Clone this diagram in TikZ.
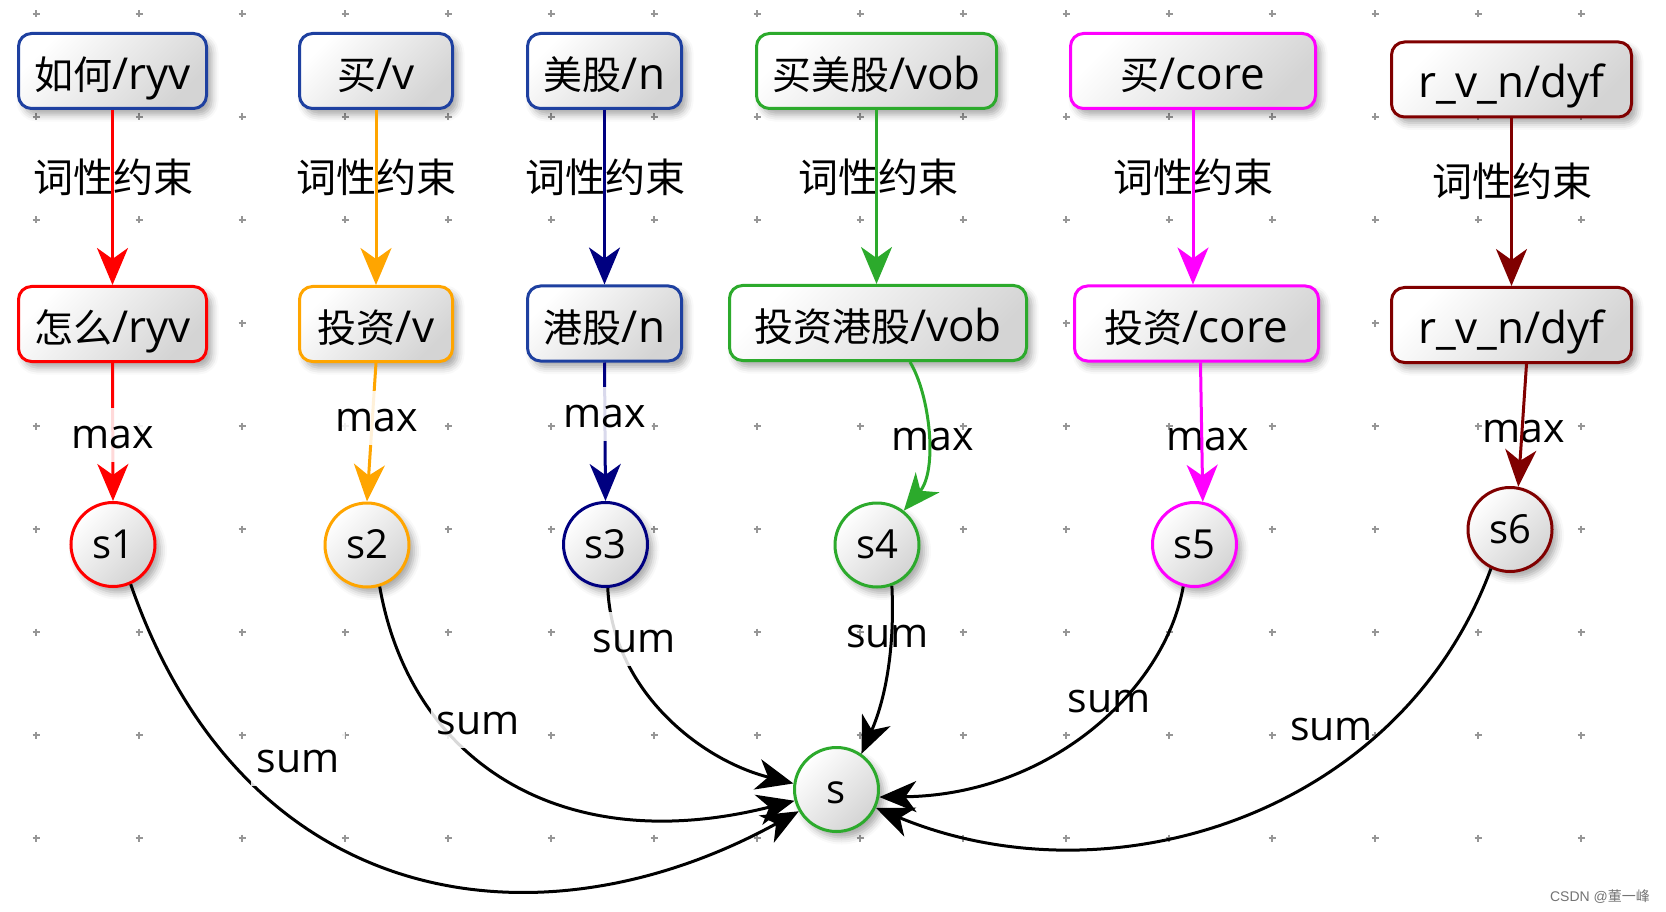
\documentclass[tikz,border=0pt]{standalone}
\usepackage{fontspec}
\setmainfont{Open Sans}
\newfontfamily\cjk{Noto Sans CJK SC}
\newfontfamily\wmfont{Liberation Sans}
\usetikzlibrary{arrows.meta,shadows.blur}

\definecolor{cblue}{RGB}{30,64,160}
\definecolor{cred}{RGB}{255,0,0}
\definecolor{corange}{RGB}{255,165,0}
\definecolor{cnavy}{RGB}{0,0,128}
\definecolor{cgreen}{RGB}{44,170,44}
\definecolor{cmag}{RGB}{255,0,255}
\definecolor{cmaroon}{RGB}{128,0,0}
\definecolor{dotgray}{RGB}{150,150,150}

\newcommand{\zh}[1]{{\cjk\fontsize{39}{44}\selectfont #1}}

\tikzset{
  wordbox/.style={draw=#1, line width=3pt, rounded corners=13pt, rectangle,
    top color=white, bottom color=black!17, shading angle=45,
    blur shadow={shadow xshift=5pt, shadow yshift=-6pt, shadow blur radius=7pt, shadow opacity=35},
    minimum height=75pt, text height=37pt, text depth=0pt, inner xsep=0pt, inner ysep=0pt,
    font=\fontsize{44}{50}\selectfont},
  snode/.style={draw=#1, line width=3pt, circle,
    top color=white, bottom color=black!17, shading angle=45,
    blur shadow={shadow xshift=5pt, shadow yshift=-6pt, shadow blur radius=7pt, shadow opacity=35},
    minimum size=84pt, text height=27pt, text depth=0pt, inner sep=0pt,
    font=\fontsize{40}{48}\selectfont},
  conlabel/.style={inner sep=0pt, font=\cjk\fontsize{40}{48}\selectfont},
  oplabel/.style={inner sep=0pt, anchor=base, font=\fontsize{41}{48}\selectfont},
  bglabel/.style={oplabel, fill=white, fill opacity=0.85, text opacity=1,
    inner xsep=6pt, inner ysep=10pt, text height=30pt, text depth=4pt},
  ce/.style={line width=3pt, draw=#1, -{Stealth[length=37pt,width=31pt,inset=11pt]}},
  sumedge/.style={ce=black},
  gdot/.style={dotgray, line width=1.2pt}
}

\begin{document}
\begin{tikzpicture}[x=1pt,y=-1pt]
\useasboundingbox (0,0) rectangle (1666,912);

% grid marks
\foreach \i in {0,...,15}{
  \foreach \j in {0,...,8}{
    \draw[gdot] ({36+103*\i-3.5},{14+103*\j}) -- ++(7,0)
                ({36+103*\i},{14+103*\j-3.5}) -- ++(0,7);
  }
}

% top row
\node[wordbox=cblue, minimum width=188pt] (t1) at (112.5,71) {\zh{如何}/ryv};
\node[wordbox=cblue, minimum width=153pt] (t2) at (376,71) {\zh{买}/v};
\node[wordbox=cblue, minimum width=154pt] (t3) at (604.5,71) {\zh{美股}/n};
\node[wordbox=cgreen, minimum width=240pt] (t4) at (876.5,71) {\zh{买美股}/vob};
\node[wordbox=cmag, minimum width=245pt] (t5) at (1193,71) {\zh{买}/core};
\node[wordbox=cmaroon, minimum width=240pt] (t6) at (1511.5,79.5) {r\_v\_n/dyf};

% second row
\node[wordbox=cred, minimum width=188pt] (b1) at (112.5,324) {\zh{怎么}/ryv};
\node[wordbox=corange, minimum width=153pt] (b2) at (376,324) {\zh{投资}/v};
\node[wordbox=cblue, minimum width=154pt] (b3) at (604.5,323.5) {\zh{港股}/n};
\node[wordbox=cgreen, minimum width=297pt] (b4) at (878,323) {\zh{投资港股}/vob};
\node[wordbox=cmag, minimum width=244pt] (b5) at (1196.5,323.5) {\zh{投资}/core};
\node[wordbox=cmaroon, minimum width=240pt] (b6) at (1511.5,325) {r\_v\_n/dyf};

% score nodes
\node[snode=cred] (s1) at (113,544.5) {s1};
\node[snode=corange] (s2) at (367,545) {s2};
\node[snode=cnavy] (s3) at (605.5,544.5) {s3};
\node[snode=cgreen] (s4) at (877,545) {s4};
\node[snode=cmag] (s5) at (1194.5,544.5) {s5};
\node[snode=cmaroon] (s6) at (1510,529.5) {s6};
\node[snode=cgreen] (s) at (836.5,789.5) {s};

% labels drawn beneath their connectors
\node[conlabel] (l1) at (113,177) {词性约束};
\node[conlabel] (l2) at (376,177) {词性约束};
\node[conlabel] (l3) at (605.5,177) {词性约束};
\node[conlabel] (l4) at (878,177) {词性约束};
\node[conlabel] (l5) at (1193.5,177) {词性约束};
\node[conlabel] (l6) at (1512.5,181) {词性约束};
\node[oplabel] (m4) at (933,450) {max};
\node[oplabel] (m5) at (1207.5,450) {max};
\node[oplabel] (m6) at (1523.5,442) {max};
\node[oplabel] (u4) at (887.5,647) {sum};
\node[oplabel] (u5) at (1109,712) {sum};
\node[oplabel] (u6) at (1331.5,740) {sum};

% constraint connectors
\draw[ce=cred] (t1.south) -- (b1.north);
\draw[ce=corange] (t2.south) -- (b2.north);
\draw[ce=cnavy] (t3.south) -- (b3.north);
\draw[ce=cgreen] (t4.south) -- (t4.south |- b4.north);
\draw[ce=cmag] (t5.south) -- (t5.south |- b5.north);
\draw[ce=cmaroon] (t6.south) -- (b6.north);

% max connectors
\draw[ce=cred] (b1.south) -- (s1.north);
\draw[ce=corange] (b2.south) -- (s2.north);
\draw[ce=cnavy] (b3.south) -- (s3.north);
\draw[ce=cgreen] ([xshift=32pt]b4.south) .. controls (930,395) and (938,470) .. (s4.52);
\draw[ce=cmag] ([xshift=4pt]b5.south) -- (s5.79);
\draw[ce=cmaroon] ([xshift=15pt]b6.south) -- (s6.79);

% sum connectors
\draw[sumedge] (s1.-66) .. controls (245,913) and (539,954) .. (s.210);
\draw[sumedge] (s2.-73) .. controls (410,760) and (560,860) .. (s.195);
\draw[sumedge] (s3.-87) .. controls (612,690) and (700,760) .. (s.172);
\draw[sumedge] (s4.-70) .. controls (895,650) and (885,700) .. (s.55);
\draw[sumedge] (s5.-105) .. controls (1165,690) and (1050,795) .. (s.-10);
\draw[sumedge] (s6.-116) .. controls (1400,815) and (1110,905) .. (s.-25);

% labels drawn over their connectors
\node[bglabel] (m1) at (113,448) {max};
\node[bglabel] (m2) at (377,431) {max};
\node[bglabel] (m3) at (605,427) {max};
\node[bglabel] (u1) at (298,772) {sum};
\node[bglabel] (u2) at (478,734) {sum};
\node[bglabel] (u3) at (634,652) {sum};

% watermark
\node[text=black!55, inner sep=0pt] (wm) at (1600,897)
  {\wmfont\fontsize{14}{16}\selectfont CSDN @{\cjk 董一峰}};
\end{tikzpicture}
\end{document}
